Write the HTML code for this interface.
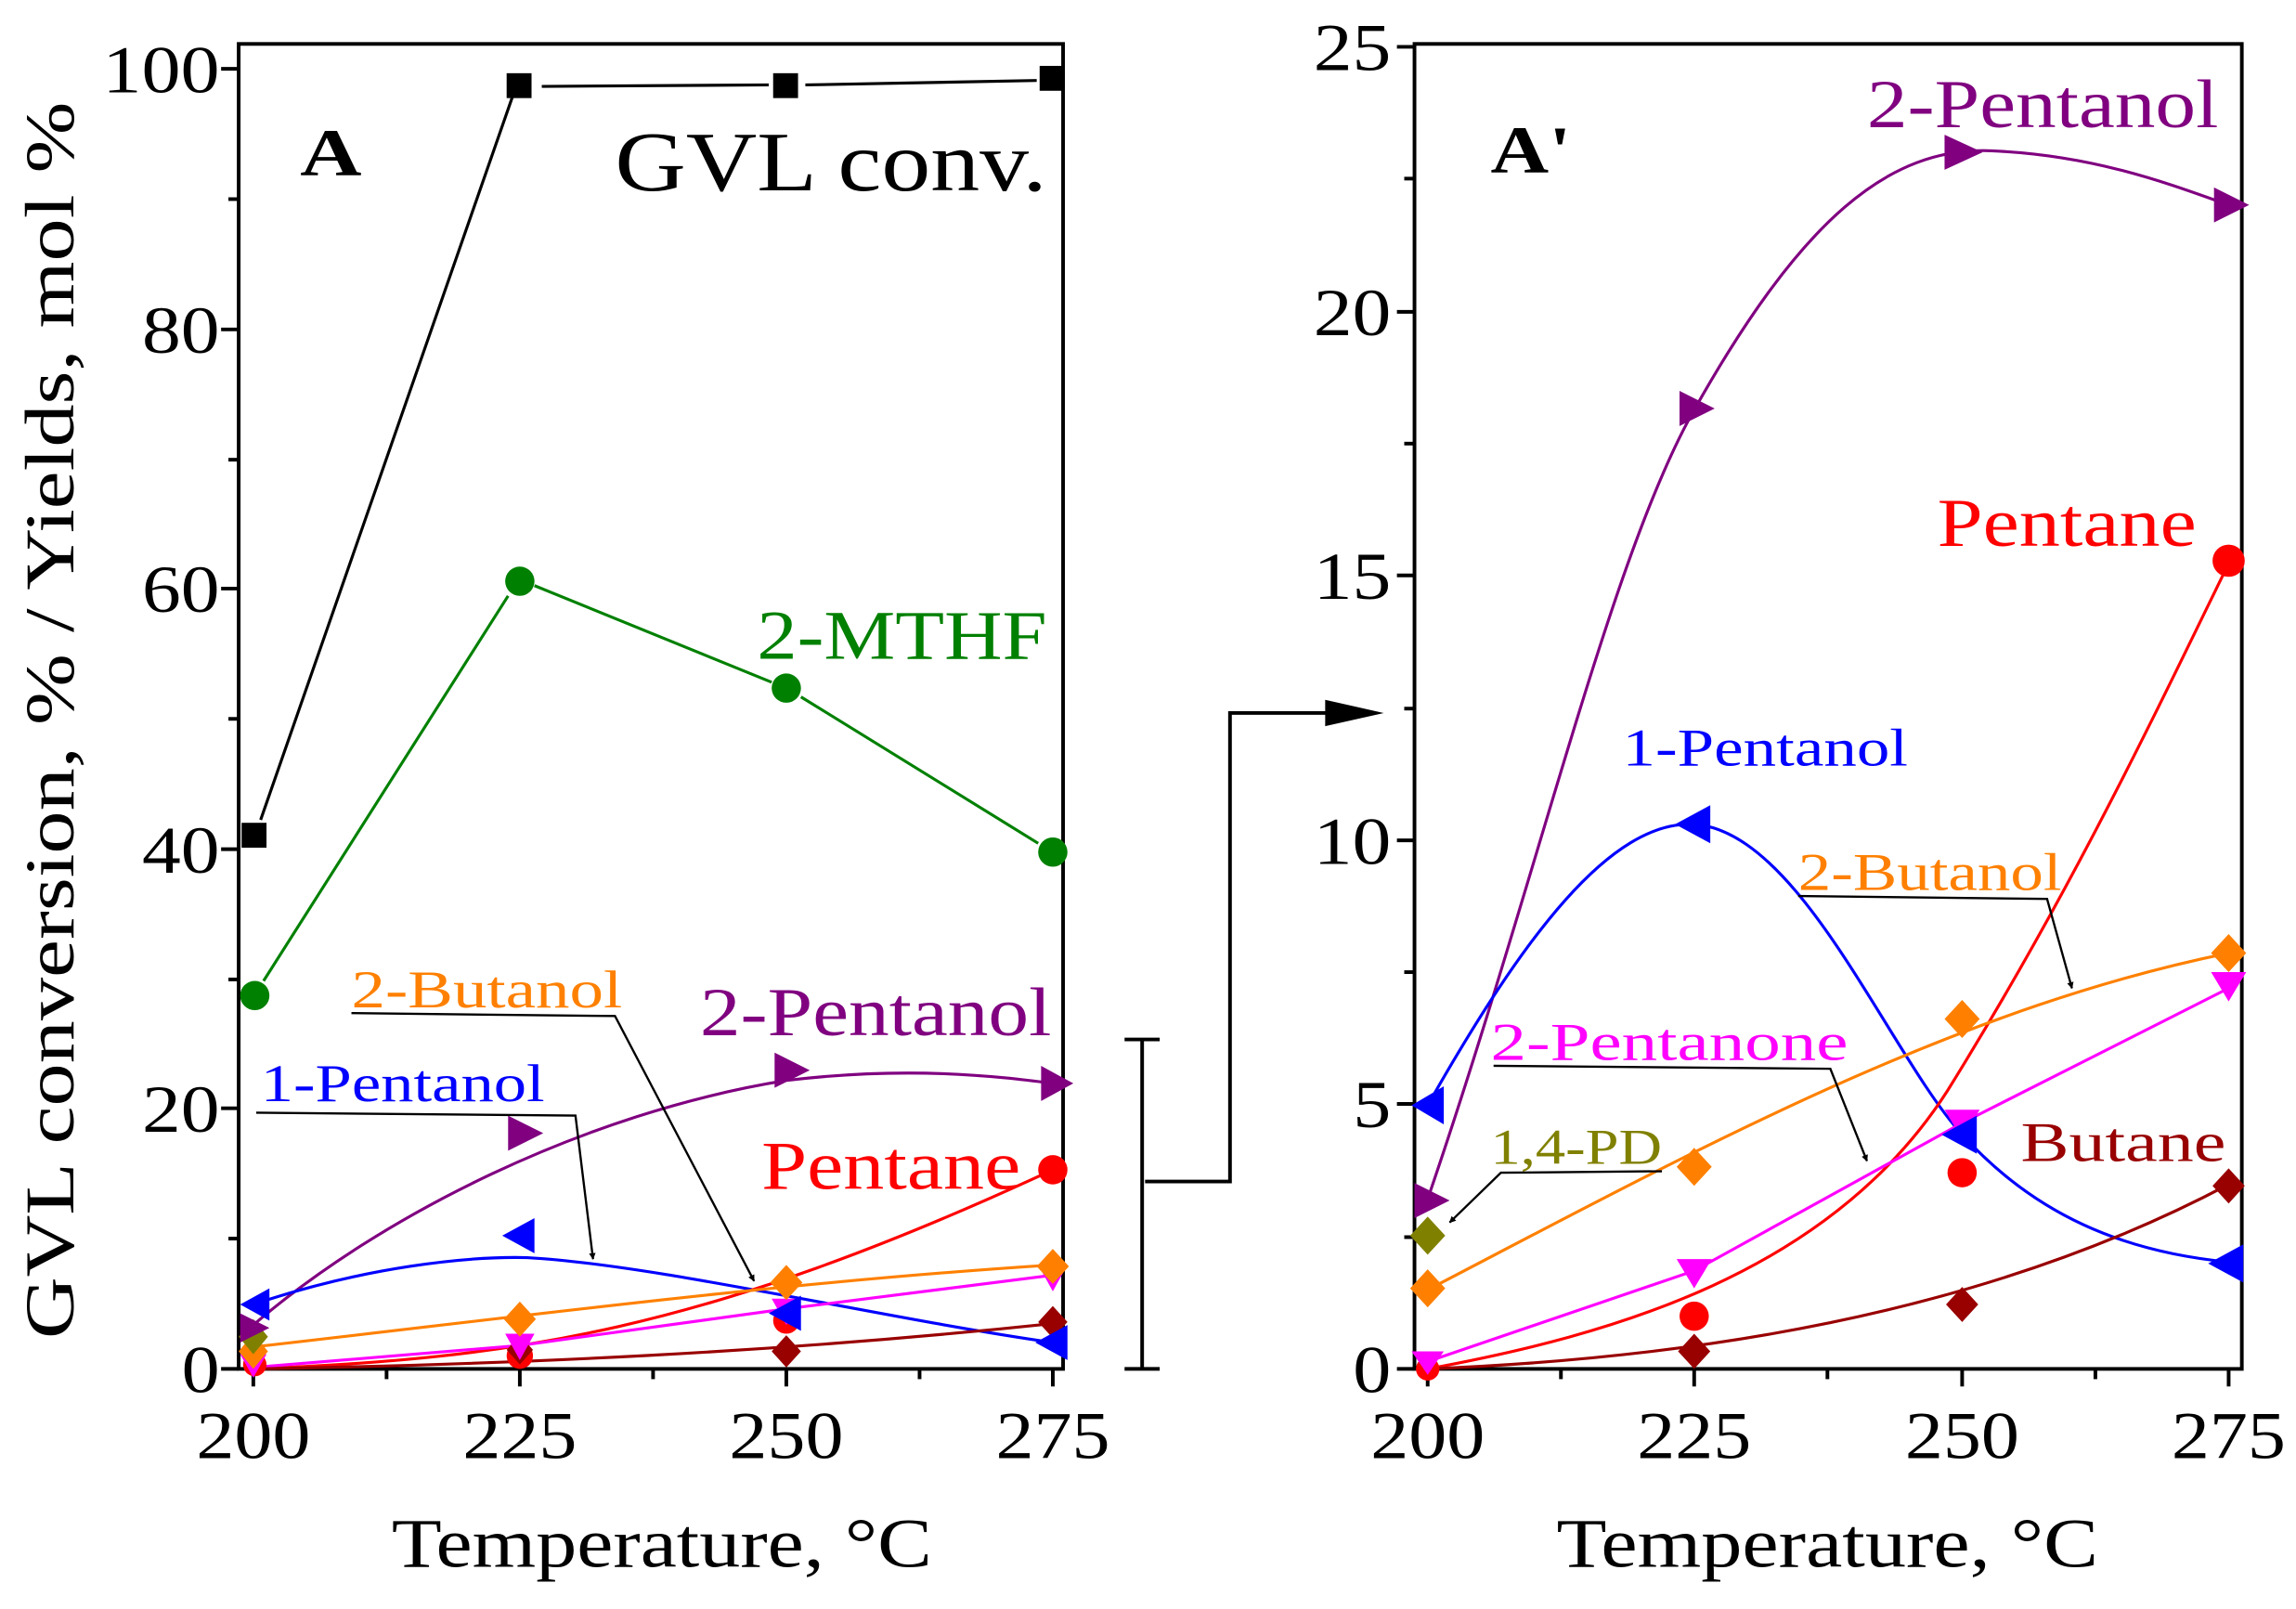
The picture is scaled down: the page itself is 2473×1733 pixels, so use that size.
<!DOCTYPE html>
<html><head><meta charset="utf-8"><style>
html,body{margin:0;padding:0;background:#fff;}
svg{display:block;}
text{font-family:"Liberation Serif",serif;}
</style></head><body>
<svg width="2473" height="1733" viewBox="0 0 1568 1099" preserveAspectRatio="none" xmlns="http://www.w3.org/2000/svg">
<defs>
<marker id="bh" viewBox="0 0 10 10" refX="9" refY="5" markerWidth="5" markerHeight="3" orient="auto"><path d="M0,0 L10,5 L0,10 Z" fill="#000"/></marker>
</defs>
<g id="left">
<rect x="163" y="30" width="563" height="905" fill="none" stroke="#000" stroke-width="2.5"/>
<g stroke="#000" stroke-width="2.5">
<line x1="151" y1="935" x2="163" y2="935"/><line x1="151" y1="757" x2="163" y2="757"/><line x1="151" y1="580" x2="163" y2="580"/><line x1="151" y1="402" x2="163" y2="402"/><line x1="151" y1="225" x2="163" y2="225"/><line x1="151" y1="47" x2="163" y2="47"/>
<line x1="156" y1="846" x2="163" y2="846"/><line x1="156" y1="669" x2="163" y2="669"/><line x1="156" y1="491" x2="163" y2="491"/><line x1="156" y1="314" x2="163" y2="314"/><line x1="156" y1="136" x2="163" y2="136"/>
<line x1="173" y1="935" x2="173" y2="947"/><line x1="355" y1="935" x2="355" y2="947"/><line x1="537" y1="935" x2="537" y2="947"/><line x1="719" y1="935" x2="719" y2="947"/>
<line x1="264" y1="935" x2="264" y2="942"/><line x1="446" y1="935" x2="446" y2="942"/><line x1="628" y1="935" x2="628" y2="942"/>
</g>
<g font-size="46" text-anchor="end" lengthAdjust="spacingAndGlyphs">
<text x="150" y="951" textLength="26" lengthAdjust="spacingAndGlyphs">0</text><text x="150" y="773" textLength="53" lengthAdjust="spacingAndGlyphs">20</text><text x="150" y="596" textLength="53" lengthAdjust="spacingAndGlyphs">40</text><text x="150" y="418" textLength="53" lengthAdjust="spacingAndGlyphs">60</text><text x="150" y="241" textLength="53" lengthAdjust="spacingAndGlyphs">80</text><text x="150" y="63" textLength="80" lengthAdjust="spacingAndGlyphs">100</text>
</g>
<g font-size="46" text-anchor="middle">
<text x="173" y="996" textLength="78" lengthAdjust="spacingAndGlyphs">200</text><text x="355" y="996" textLength="78" lengthAdjust="spacingAndGlyphs">225</text><text x="537" y="996" textLength="78" lengthAdjust="spacingAndGlyphs">250</text><text x="719" y="996" textLength="78" lengthAdjust="spacingAndGlyphs">275</text>
</g>
<text x="452" y="1070" font-size="48" text-anchor="middle" textLength="369" lengthAdjust="spacingAndGlyphs">Temperature, °C</text>
<text transform="translate(50,492) rotate(-90)" font-size="48" text-anchor="middle" textLength="845" lengthAdjust="spacingAndGlyphs">GVL conversion, % / Yields, mol %</text>
<text x="205" y="120" font-size="46" font-weight="bold" textLength="42" lengthAdjust="spacingAndGlyphs">A</text>
<text x="420" y="130" font-size="58" textLength="295" lengthAdjust="spacingAndGlyphs">GVL conv.</text>
<g stroke="#000" stroke-width="2" fill="none"><line x1="178" y1="560" x2="350" y2="66"/><line x1="370" y1="59" x2="525" y2="58"/><line x1="550" y1="58" x2="708" y2="55"/></g>
<g fill="#000"><rect x="165" y="562" width="17" height="17"/><rect x="346" y="50" width="17" height="17"/><rect x="528" y="50" width="17" height="17"/><rect x="710" y="45" width="17" height="17"/></g>
<g stroke="#008000" stroke-width="2" fill="none"><line x1="180" y1="670" x2="347" y2="407"/><line x1="365" y1="400" x2="527" y2="466"/><line x1="547" y1="476" x2="709" y2="576"/></g>
<g fill="#008000"><circle cx="174" cy="680" r="10"/><circle cx="355" cy="397" r="10"/><circle cx="537" cy="470" r="10"/><circle cx="719" cy="582" r="10"/></g>
<text x="517" y="450" font-size="48" fill="#008000" textLength="198" lengthAdjust="spacingAndGlyphs">2-MTHF</text>
<g fill="none" stroke-width="2">
<path d="M173,905 C260,830 400,760 537,738 C620,728 680,735 719,740" stroke="#800080"/>
<path d="M173,891 C250,865 320,858 360,859 C450,864 600,900 719,917" stroke="#0000ff"/>
<path d="M173,935 C350,928 480,910 719,799" stroke="#ff0000"/>
<path d="M173,920 C350,900 530,876 719,864" stroke="#ff8000"/>
<path d="M173,934 L355,919 L537,894 L719,871" stroke="#ff00ff"/>
<path d="M173,935 C350,932 530,924 719,904" stroke="#990000"/>
</g>
<g>
<circle cx="355" cy="926" r="9" fill="#ff0000"/><circle cx="537" cy="902" r="9" fill="#ff0000"/><circle cx="719" cy="799" r="10" fill="#ff0000"/><circle cx="174" cy="932" r="8" fill="#ff0000"/>
<path d="M355,932 l-9,-10 l9,-10 l9,10 Z" fill="#990000"/><path d="M537,934 l-10,-11 l10,-11 l10,11 Z" fill="#990000"/><path d="M719,914 l-10,-11 l10,-11 l10,11 Z" fill="#990000"/>
<path d="M164,925 l18,0 l-9,16 Z" fill="#ff00ff"/><path d="M345,911 l20,0 l-10,18 Z" fill="#ff00ff"/><path d="M527,887 l20,0 l-10,18 Z" fill="#ff00ff"/><path d="M709,864 l20,0 l-10,18 Z" fill="#ff00ff"/>
<path d="M173,935 l-10,-12 l10,-12 l10,12 Z" fill="#ff8000"/><path d="M355,913 l-11,-12 l11,-12 l11,12 Z" fill="#ff8000"/><path d="M537,888 l-11,-12 l11,-12 l11,12 Z" fill="#ff8000"/><path d="M719,877 l-11,-12 l11,-12 l11,12 Z" fill="#ff8000"/>
<path d="M173,925 l-10,-12 l10,-12 l10,12 Z" fill="#808000"/>
<path d="M164,897 l20,10 l-20,10 Z" fill="#800080"/><path d="M347,762 l24,12 l-24,12 Z" fill="#800080"/><path d="M529,719 l24,12 l-24,12 Z" fill="#800080"/><path d="M711,728 l22,12 l-22,12 Z" fill="#800080"/>
<path d="M184,880 l-20,11 l20,11 Z" fill="#0000ff"/><path d="M365,832 l-22,12 l22,12 Z" fill="#0000ff"/><path d="M547,885 l-22,12 l22,12 Z" fill="#0000ff"/><path d="M729,905 l-22,12 l22,12 Z" fill="#0000ff"/>
</g>
<text x="240" y="688" font-size="36" fill="#ff8000" textLength="185" lengthAdjust="spacingAndGlyphs">2-Butanol</text>
<text x="478" y="707" font-size="47" fill="#800080" textLength="240" lengthAdjust="spacingAndGlyphs">2-Pentanol</text>
<text x="178" y="752" font-size="36" fill="#0000ff" textLength="194" lengthAdjust="spacingAndGlyphs">1-Pentanol</text>
<text x="520" y="812" font-size="47" fill="#ff0000" textLength="177" lengthAdjust="spacingAndGlyphs">Pentane</text>
<g stroke="#000" stroke-width="1.5" fill="none">
<polyline points="240,692 420,694 515,875" marker-end="url(#bh)"/>
<polyline points="175,760 393,762 405,860" marker-end="url(#bh)"/>
</g>
<g stroke="#000" stroke-width="2.5" fill="none">
<line x1="780" y1="710" x2="780" y2="935"/><line x1="768" y1="710" x2="792" y2="710"/><line x1="768" y1="935" x2="792" y2="935"/>
<polyline points="782,807 840,807 840,487 912,487"/>
</g>
<path d="M905,478 L945,487 L905,496 Z" fill="#000"/>
</g>
<g id="right">
<rect x="966" y="30" width="565" height="905" fill="none" stroke="#000" stroke-width="2.5"/>
<g stroke="#000" stroke-width="2.5">
<line x1="954" y1="935" x2="966" y2="935"/><line x1="954" y1="754" x2="966" y2="754"/><line x1="954" y1="574" x2="966" y2="574"/><line x1="954" y1="393" x2="966" y2="393"/><line x1="954" y1="213" x2="966" y2="213"/><line x1="954" y1="32" x2="966" y2="32"/>
<line x1="959" y1="845" x2="966" y2="845"/><line x1="959" y1="664" x2="966" y2="664"/><line x1="959" y1="484" x2="966" y2="484"/><line x1="959" y1="303" x2="966" y2="303"/><line x1="959" y1="122" x2="966" y2="122"/>
<line x1="975" y1="935" x2="975" y2="947"/><line x1="1157" y1="935" x2="1157" y2="947"/><line x1="1340" y1="935" x2="1340" y2="947"/><line x1="1522" y1="935" x2="1522" y2="947"/>
<line x1="1066" y1="935" x2="1066" y2="942"/><line x1="1248" y1="935" x2="1248" y2="942"/><line x1="1431" y1="935" x2="1431" y2="942"/>
</g>
<g font-size="46" text-anchor="end">
<text x="950" y="951" textLength="26" lengthAdjust="spacingAndGlyphs">0</text><text x="950" y="770" textLength="26" lengthAdjust="spacingAndGlyphs">5</text><text x="950" y="590" textLength="53" lengthAdjust="spacingAndGlyphs">10</text><text x="950" y="409" textLength="53" lengthAdjust="spacingAndGlyphs">15</text><text x="950" y="229" textLength="53" lengthAdjust="spacingAndGlyphs">20</text><text x="950" y="48" textLength="53" lengthAdjust="spacingAndGlyphs">25</text>
</g>
<g font-size="46" text-anchor="middle">
<text x="975" y="996" textLength="78" lengthAdjust="spacingAndGlyphs">200</text><text x="1157" y="996" textLength="78" lengthAdjust="spacingAndGlyphs">225</text><text x="1340" y="996" textLength="78" lengthAdjust="spacingAndGlyphs">250</text><text x="1522" y="996" textLength="78" lengthAdjust="spacingAndGlyphs">275</text>
</g>
<text x="1248" y="1070" font-size="48" text-anchor="middle" textLength="370" lengthAdjust="spacingAndGlyphs">Temperature, °C</text>
<text x="1018" y="118" font-size="46" font-weight="bold" textLength="55" lengthAdjust="spacingAndGlyphs">A'</text>
<g fill="none" stroke-width="2">
<path d="M975,819 C1050,600 1100,380 1157,280 C1230,150 1290,100 1360,103 C1430,106 1480,125 1522,140" stroke="#800080"/>
<path d="M975,755 C1040,640 1100,560 1157,563 C1230,568 1290,720 1340,775 C1390,830 1450,855 1522,862" stroke="#0000ff"/>
<path d="M975,935 C1100,912 1250,870 1330,745 C1420,600 1480,470 1522,385" stroke="#ff0000"/>
<path d="M975,881 C1150,790 1330,690 1522,651" stroke="#ff8000"/>
<path d="M975,930 L1157,868 L1340,767 L1522,675" stroke="#ff00ff"/>
<path d="M975,935 C1150,928 1350,900 1522,809" stroke="#990000"/>
</g>
<g>
<circle cx="975" cy="935" r="8" fill="#ff0000"/><circle cx="1157" cy="899" r="10" fill="#ff0000"/><circle cx="1340" cy="801" r="10" fill="#ff0000"/><circle cx="1522" cy="383" r="11" fill="#ff0000"/>
<path d="M1157,935 l-11,-12 l11,-12 l11,12 Z" fill="#990000"/><path d="M1340,903 l-11,-12 l11,-12 l11,12 Z" fill="#990000"/><path d="M1522,822 l-11,-12 l11,-12 l11,12 Z" fill="#990000"/>
<path d="M964,923 l22,0 l-11,16 Z" fill="#ff00ff"/><path d="M1145,860 l24,0 l-12,20 Z" fill="#ff00ff"/><path d="M1328,758 l24,0 l-12,20 Z" fill="#ff00ff"/><path d="M1510,664 l24,0 l-12,20 Z" fill="#ff00ff"/>
<path d="M975,893 l-12,-13 l12,-13 l12,13 Z" fill="#ff8000"/><path d="M1157,810 l-12,-13 l12,-13 l12,13 Z" fill="#ff8000"/><path d="M1340,709 l-12,-13 l12,-13 l12,13 Z" fill="#ff8000"/><path d="M1522,664 l-12,-13 l12,-13 l12,13 Z" fill="#ff8000"/>
<path d="M975,857 l-12,-13 l12,-13 l12,13 Z" fill="#808000"/>
<path d="M966,808 l24,12 l-24,12 Z" fill="#800080"/><path d="M1147,267 l24,12 l-24,12 Z" fill="#800080"/><path d="M1328,92 l26,12 l-26,12 Z" fill="#800080"/><path d="M1512,128 l24,12 l-24,12 Z" fill="#800080"/>
<path d="M986,742 l-22,13 l22,13 Z" fill="#0000ff"/><path d="M1168,550 l-24,13 l24,13 Z" fill="#0000ff"/><path d="M1350,762 l-24,13 l24,13 Z" fill="#0000ff"/><path d="M1532,850 l-24,13 l24,13 Z" fill="#0000ff"/>
</g>
<text x="1275" y="87" font-size="47" fill="#800080" textLength="240" lengthAdjust="spacingAndGlyphs">2-Pentanol</text>
<text x="1323" y="373" font-size="47" fill="#ff0000" textLength="177" lengthAdjust="spacingAndGlyphs">Pentane</text>
<text x="1108" y="523" font-size="36" fill="#0000ff" textLength="195" lengthAdjust="spacingAndGlyphs">1-Pentanol</text>
<text x="1228" y="608" font-size="36" fill="#ff8000" textLength="180" lengthAdjust="spacingAndGlyphs">2-Butanol</text>
<text x="1018" y="724" font-size="36" fill="#ff00ff" textLength="244" lengthAdjust="spacingAndGlyphs">2-Pentanone</text>
<text x="1018" y="795" font-size="34" fill="#808000" textLength="117" lengthAdjust="spacingAndGlyphs">1,4-PD</text>
<text x="1380" y="793" font-size="38" fill="#990000" textLength="140" lengthAdjust="spacingAndGlyphs">Butane</text>
<g stroke="#000" stroke-width="1.5" fill="none">
<polyline points="1228,612 1398,614 1415,675" marker-end="url(#bh)"/>
<polyline points="1020,728 1250,730 1275,793" marker-end="url(#bh)"/>
<polyline points="1135,800 1025,801 990,835" marker-end="url(#bh)"/>
</g>
</g>
</svg>
</body></html>
